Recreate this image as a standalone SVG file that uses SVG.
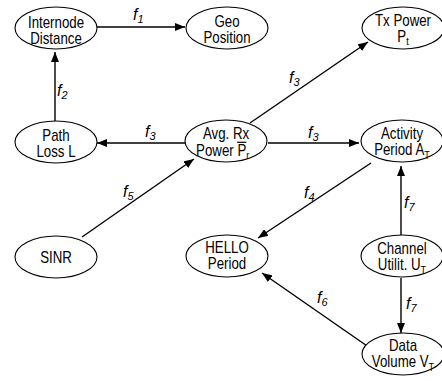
<svg xmlns="http://www.w3.org/2000/svg" width="442" height="381" viewBox="0 0 442 381">
  <style>
    .node ellipse { fill: #fff; stroke: #000; stroke-width: 1.1; }
    .node text { font-family: "Liberation Sans", Arial, sans-serif; font-size: 16px; fill: #000; text-anchor: middle; }
    .sub { font-size: 11px; }
    .edge line { stroke: #000; stroke-width: 1.4; marker-end: url(#head); }
    .lbl { font-family: "Liberation Sans", Arial, sans-serif; font-size: 16px; font-style: italic; fill: #000; }
    .lbl tspan { font-size: 11px; }
  </style>
  <defs>
    <marker id="head" markerUnits="userSpaceOnUse" markerWidth="10" markerHeight="8" refX="10" refY="4" orient="auto">
      <path d="M0,0 L10,4 L0,8 z" fill="#000"/>
    </marker>
  </defs>
  <rect width="442" height="381" fill="#fff"/>

  <!-- connectors -->
  <g id="connectors" class="edge">
    <line x1="97" y1="27" x2="185" y2="27"/>
    <line x1="55" y1="121" x2="55" y2="52"/>
    <line x1="185" y1="143" x2="97" y2="143"/>
    <line x1="250" y1="123" x2="368" y2="42"/>
    <line x1="268" y1="143" x2="359" y2="143"/>
    <line x1="82" y1="237" x2="194" y2="159"/>
    <line x1="371" y1="163" x2="258" y2="238"/>
    <line x1="401" y1="236" x2="401" y2="166"/>
    <line x1="401" y1="278" x2="401" y2="333"/>
    <line x1="370" y1="348" x2="262" y2="273"/>
  </g>

  <!-- connector labels -->
  <g id="labels">
    <text class="lbl" x="133" y="20">f<tspan dy="3">1</tspan></text>
    <text class="lbl" x="57" y="96">f<tspan dy="3">2</tspan></text>
    <text class="lbl" x="145" y="137">f<tspan dy="3">3</tspan></text>
    <text class="lbl" x="289" y="83">f<tspan dy="3">3</tspan></text>
    <text class="lbl" x="308" y="138">f<tspan dy="3">3</tspan></text>
    <text class="lbl" x="123" y="197">f<tspan dy="3">5</tspan></text>
    <text class="lbl" x="304" y="198">f<tspan dy="3">4</tspan></text>
    <text class="lbl" x="404" y="208">f<tspan dy="3">7</tspan></text>
    <text class="lbl" x="406" y="309">f<tspan dy="3">7</tspan></text>
    <text class="lbl" x="317" y="303">f<tspan dy="3">6</tspan></text>
  </g>

  <!-- nodes -->
  <g id="internode" class="node" transform="translate(56 28)">
    <ellipse rx="41" ry="21"/>
    <g transform="scale(0.83 1)">
      <text y="0">Internode</text>
      <text y="16">Distance</text>
    </g>
  </g>
  <g id="geo" class="node" transform="translate(227 28)">
    <ellipse rx="41" ry="21"/>
    <g transform="scale(0.83 1)">
      <text y="-1">Geo</text>
      <text y="15">Position</text>
    </g>
  </g>
  <g id="tx-power" class="node" transform="translate(403 28)">
    <ellipse rx="41" ry="21"/>
    <g transform="scale(0.83 1)">
      <text y="-2">Tx Power</text>
      <text y="14">P<tspan class="sub" dy="3">t</tspan></text>
    </g>
  </g>
  <g id="path-loss" class="node" transform="translate(56 142)">
    <ellipse rx="41" ry="21"/>
    <g transform="scale(0.83 1)">
      <text y="-1">Path</text>
      <text y="15">Loss L</text>
    </g>
  </g>
  <g id="avg-rx" class="node" transform="translate(226 141)">
    <ellipse rx="41" ry="21"/>
    <g transform="scale(0.83 1)">
      <text y="-2.5">Avg. Rx</text>
      <text x="-4" y="15">Power P<tspan class="sub" dy="3">r</tspan></text>
      <!-- bar over the P of the mean received power -->
      <line x1="13.5" y1="1.3" x2="24.5" y2="1.3" stroke="#000" stroke-width="1.2"/>
    </g>
  </g>
  <g id="activity" class="node" transform="translate(402 141)">
    <ellipse rx="41" ry="21"/>
    <g transform="scale(0.83 1)">
      <text y="-2">Activity</text>
      <text y="14">Period A<tspan class="sub" dy="4">T</tspan></text>
    </g>
  </g>
  <g id="sinr" class="node" transform="translate(56 257)">
    <ellipse rx="41" ry="21"/>
    <g transform="scale(0.83 1)">
      <text y="6">SINR</text>
    </g>
  </g>
  <g id="hello" class="node" transform="translate(227 256)">
    <ellipse rx="41" ry="21"/>
    <g transform="scale(0.83 1)">
      <text y="-3">HELLO</text>
      <text y="13">Period</text>
    </g>
  </g>
  <g id="channel" class="node" transform="translate(402 256)">
    <ellipse rx="41" ry="21"/>
    <g transform="scale(0.83 1)">
      <text y="-2">Channel</text>
      <text y="14">Utilit. U<tspan class="sub" dy="4">T</tspan></text>
    </g>
  </g>
  <g id="data-volume" class="node" transform="translate(403 354)">
    <ellipse rx="41" ry="21"/>
    <g transform="scale(0.83 1)">
      <text y="-3">Data</text>
      <text y="13">Volume V<tspan class="sub" dy="4">T</tspan></text>
    </g>
  </g>
</svg>
